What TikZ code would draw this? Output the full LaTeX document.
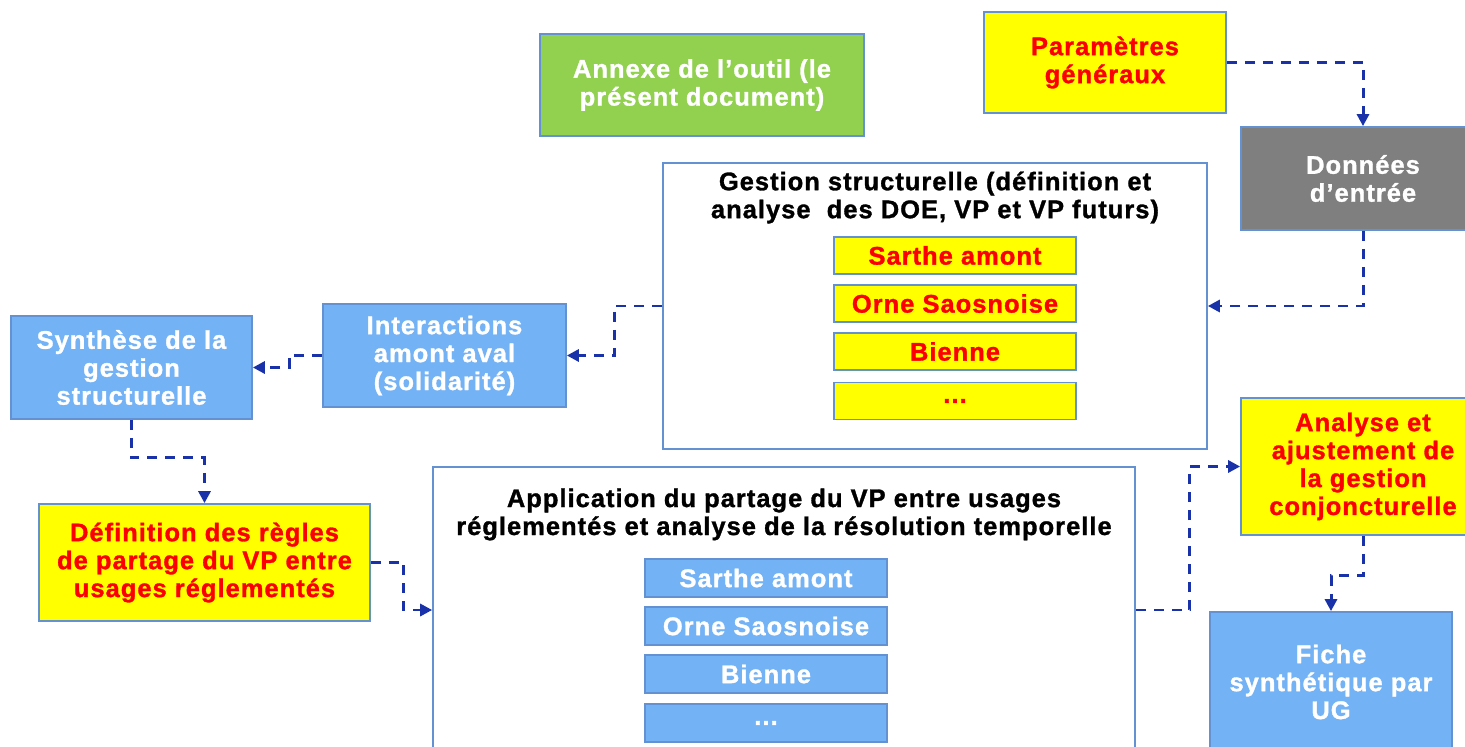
\documentclass[tikz,border=0pt]{standalone}
\usepackage{fontspec}
\setmainfont{Liberation Sans}[LetterSpace=4, BoldFeatures={FakeBold=1.2}]
\usetikzlibrary{arrows.meta}
\definecolor{jaune}{RGB}{255,255,0}
\definecolor{rouge}{RGB}{250,0,0}
\definecolor{vert}{RGB}{146,208,80}
\definecolor{gris}{RGB}{127,127,127}
\definecolor{bleu}{RGB}{115,178,245}
\definecolor{cadre}{RGB}{100,145,210}
\definecolor{trait}{RGB}{25,50,170}

\begin{document}
\begin{tikzpicture}[x=0.02cm, y=-0.02cm, >={Triangle[length=0.24cm,width=0.24cm]},
  box/.style={draw=cadre, line width=1pt, align=center, inner sep=0pt, font=\bfseries\fontsize{14.5}{15.9}\selectfont},
  jaunebox/.style={box, fill=jaune, text=rouge},
  bleubox/.style={box, fill=bleu, text=white},
  titre/.style={align=center, inner sep=0pt, font=\bfseries\fontsize{14.5}{15.9}\selectfont},
  fleche/.style={->, draw=trait, line width=1.7pt, dash pattern=on 0.2cm off 0.16cm}]

\clip (0,0) rectangle (1465,747);

\node[box, fill=vert, text=white, minimum width=6.48cm, minimum height=2.04cm] (annexe) at (702,85) {Annexe de l’outil (le\\présent document)};
\node[jaunebox, minimum width=4.84cm, minimum height=2.02cm] (param) at (1105,62.5) {Paramètres\\généraux};
\node[box, fill=gris, text=white, minimum width=4.88cm, minimum height=2.06cm] (donnees) at (1363,178.5) {Données\\d’entrée};

\node[box, fill=white, minimum width=10.88cm, minimum height=5.72cm] (gestion) at (935,306) {};
\node[titre] (gtitre) at (935,197.5) {Gestion structurelle (définition et\\analyse\ \ des DOE, VP et VP futurs)};
\foreach \nom/\y [count=\i] in {Sarthe amont/255.5, Orne Saosnoise/303.5, Bienne/351.5, \ldots/401}
  \node[jaunebox, minimum width=4.84cm, minimum height=0.74cm] (g\i) at (955,\y) {\nom};

\node[bleubox, minimum width=4.86cm, minimum height=2.06cm] (interactions) at (444.5,355.5) {Interactions\\amont aval\\(solidarité)};
\node[bleubox, minimum width=4.82cm, minimum height=2.06cm] (synthese) at (131.5,367.5) {Synthèse de la\\gestion\\structurelle};
\node[jaunebox, minimum width=6.62cm, minimum height=2.34cm] (regles) at (204.5,562.5) {Définition des règles\\de partage du VP entre\\usages réglementés};

\node[box, fill=white, minimum width=14.04cm, minimum height=5.72cm] (appli) at (784,610) {};
\node[titre] (atitre) at (784,514.5) {Application du partage du VP entre usages\\réglementés et analyse de la résolution temporelle};
\foreach \nom/\y [count=\i] in {Sarthe amont/578, Orne Saosnoise/626, Bienne/674, \ldots/723}
  \node[bleubox, minimum width=4.84cm, minimum height=0.76cm] (a\i) at (766,\y) {\nom};

\node[jaunebox, minimum width=4.88cm, minimum height=2.74cm] (analyse) at (1363,466.5) {Analyse et\\ajustement de\\la gestion\\conjoncturelle};
\node[bleubox, minimum width=4.84cm, minimum height=2.8cm] (fiche) at (1331,682) {Fiche\\synthétique par\\UG};

\draw[fleche] (param) -| (donnees);
\draw[fleche] (donnees) |- (gestion);
\draw[fleche] (gestion.west) -- ++(-48,0) |- (interactions);
\draw[fleche] (interactions.west) -- ++(-33,0) |- (synthese);
\draw[fleche] (synthese.south) -- ++(0,38) -| (regles);
\draw[fleche] (regles.east) -- ++(33,0) |- (appli);
\draw[fleche] (appli.east) -- ++(54,0) |- (analyse);
\draw[fleche] (analyse.south) -- ++(0,40) -| (fiche);

\end{tikzpicture}
\end{document}
